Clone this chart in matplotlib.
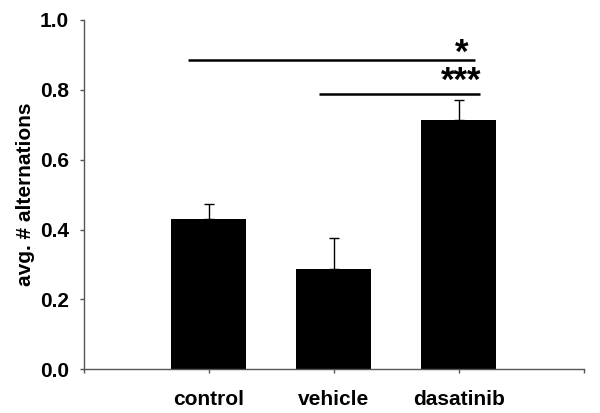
import numpy as np
import matplotlib.pyplot as plt

groups = ["control", "vehicle", "dasatinib"]
means = [0.429, 0.286, 0.714]
errs = [0.045, 0.089, 0.058]

# significance bars: (x start, x end, y, label, label y)
sig_lines = [(0.834, 3.128, 0.886, "*", 0.878), (1.882, 3.168, 0.789, "***", 0.797)]

plt.rcParams['font.family'] = ['Liberation Sans', 'DejaVu Sans']
plt.rcParams['font.weight'] = 'bold'

fig = plt.figure(figsize=(6, 4.13), dpi=100)
ax = fig.add_axes([0.14, 0.1058, 0.833, 0.8458])

x = np.arange(1, len(groups) + 1)
ax.bar(x, means, width=0.6, color="black", zorder=2)
ax.errorbar(x, means, yerr=[np.zeros(len(errs)), errs], fmt="none",
            ecolor="black", elinewidth=1.0, capsize=3.6, capthick=1.0, zorder=1)

for x0, x1, y, lab, ly in sig_lines:
    ax.plot([x0, x1], [y, y], color="black", lw=1.8, solid_capstyle="butt")
    ax.text(3.02, ly, lab, ha="center", va="baseline", fontsize=25, fontweight="bold")

ax.set_xlim(0, 4)
ax.set_ylim(0, 1.0)
ax.set_xticks([0, 1, 2, 3, 4])
ax.set_xticklabels(["", "control", "vehicle", "dasatinib", ""])
ax.set_yticks(np.arange(0, 1.01, 0.2))
ax.set_yticklabels([f"{v:.1f}" for v in np.arange(0, 1.01, 0.2)])
ax.tick_params(axis="both", direction="out", length=3, width=1, color="#555555", labelsize=15)
ax.tick_params(axis="x", pad=12)
ax.tick_params(axis="y", pad=8)
ax.set_ylabel("avg. # alternations", fontsize=15, fontweight="bold", labelpad=3)

for s in ["top", "right"]:
    ax.spines[s].set_visible(False)
for s in ["left", "bottom"]:
    ax.spines[s].set_color("#555555")
    ax.spines[s].set_linewidth(1)

fig.savefig("out.png", dpi=100)
